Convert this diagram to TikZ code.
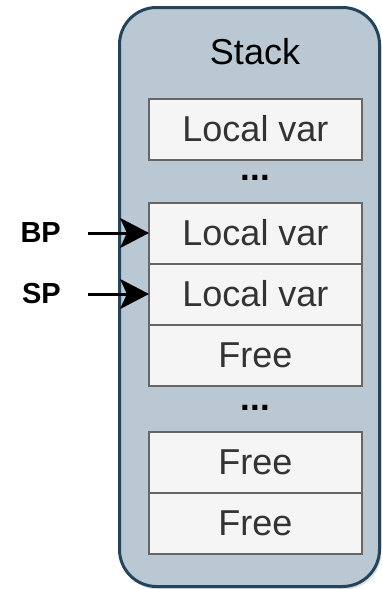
\documentclass[tikz,border=0pt]{standalone}
\usepackage{fontspec}
\setmainfont{Liberation Sans}
\usepackage{tikz}
\usetikzlibrary{arrows.meta,shapes,positioning,shadows}
\usepackage{xcolor}
\definecolor{stblue}{RGB}{35,68,93}
\definecolor{stfill}{RGB}{186,200,211}
\definecolor{slotgray}{RGB}{102,102,102}
\definecolor{slotfill}{RGB}{245,245,245}
\definecolor{slottext}{RGB}{51,51,51}
\tikzstyle{arrow} = [line width=3pt,-{Stealth[length=29pt,width=30pt,inset=7pt]},color=black]
\tikzstyle{stackframe} = [rectangle, rounded corners=37pt, draw=stblue, fill=stfill, line width=3pt, drop shadow={shadow xshift=2pt, shadow yshift=-3pt, opacity=0.25}]
\tikzstyle{slot} = [rectangle, minimum width=213pt, minimum height=61pt, outer sep=0pt, text centered, draw=slotgray, fill=slotfill, line width=2pt, text=slottext, font=\fontsize{36pt}{43pt}\selectfont]
\tikzstyle{dots} = [anchor=base, inner sep=0pt, font=\fontsize{35pt}{42pt}\selectfont\bfseries]
\tikzstyle{pointer} = [inner sep=0pt, font=\fontsize{29pt}{35pt}\selectfont\bfseries]

\begin{document}
\begin{tikzpicture}[x=1pt, y=-1pt]
\useasboundingbox (0,0) rectangle (382,589);
% Frame
\node (stack) [stackframe, minimum width=260pt, minimum height=579pt] at (249.5,297) {};
\node (title) [inner sep=0pt, font=\fontsize{36pt}{43pt}\selectfont] at (255,52) {Stack};

% Slots
\node (local1) [slot] at (255.5,129) {Local var};
\node (dots1) [dots] at (255.5,180) {...};
\node (local2) [slot] at (255.5,233) {Local var};
\node (local3) [slot, below=0pt of local2] {Local var};
\node (free1) [slot, below=0pt of local3] {Free};
\node (dots2) [dots] at (255.5,410) {...};
\node (free2) [slot] at (255.5,462) {Free};
\node (free3) [slot, below=0pt of free2] {Free};

% Pointers
\node (bp) [pointer, left=88pt of local2] {BP};
\node (sp) [pointer, left=88pt of local3] {SP};
\draw[arrow, shorten <=27pt] (bp) -- (local2);
\draw[arrow, shorten <=27pt] (sp) -- (local3);
\end{tikzpicture}
\end{document}
